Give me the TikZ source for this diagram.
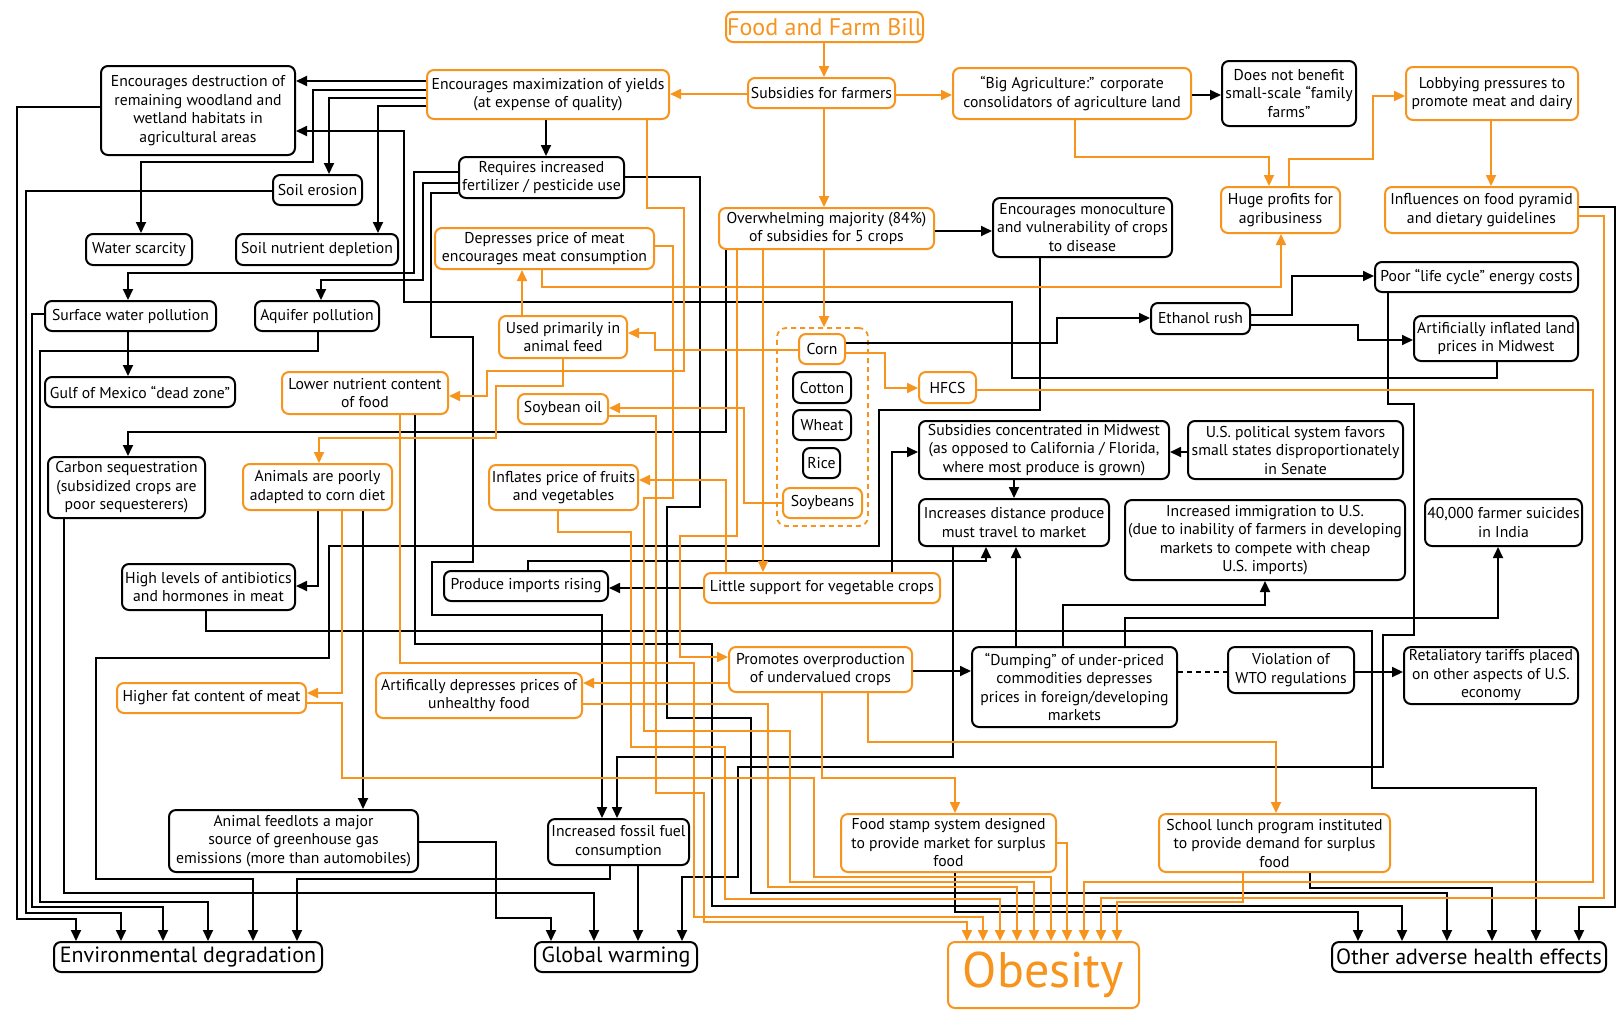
\documentclass[tikz,border=0pt]{standalone}
\usepackage{fontspec}
\setmainfont{PT Sans}
\usetikzlibrary{arrows.meta}
\definecolor{forange}{RGB}{247,148,29}
\newcommand{\mybox}[7]{%
  \pgfmathsetmacro\mbW{#5-#3}\pgfmathsetmacro\mbH{#6-#4}%
  \pgfmathsetmacro\mbX{(#3+#5)/2}\pgfmathsetmacro\mbY{(#4+#6)/2}%
  \node[#1, minimum width=\mbW pt, minimum height=\mbH pt] (#2) at (\mbX,\mbY) {#7};}
\begin{document}
\begin{tikzpicture}[x=1pt,y=-1pt,
  box/.style={rounded corners=7pt, line width=2pt, fill=white, align=center, inner sep=0pt, font=\fontsize{15.7}{18.5}\selectfont},
  bk/.style={box, draw=black},
  ob/.style={box, draw=forange},
  big/.style={font=\fontsize{22}{24}\selectfont},
  ka/.style={line width=1.8pt, draw=black, -{Triangle[length=11pt,width=10pt]}},
  oa/.style={line width=1.8pt, draw=forange, -{Triangle[length=11pt,width=10pt]}},
  kl/.style={line width=1.8pt, draw=black},
]
\fill[white] (0,0) rectangle (1621,1013);
\useasboundingbox (0,0) rectangle (1621,1013);

% crop group
\node[draw=forange, line width=1.8pt, dash pattern=on 5pt off 4pt, rounded corners=9pt, inner sep=0pt, minimum width=91pt, minimum height=198pt] (crops) at (822.5,427) {};

\mybox{ob, font=\fontsize{24}{26}\selectfont, text=forange}{ffb}{726}{12}{923}{42}{Food and Farm Bill}
\mybox{ob}{encmax}{427}{70}{669}{119}{Encourages maximization of yields\\(at expense of quality)}
\mybox{ob}{subs}{748}{78}{895}{108}{Subsidies for farmers}
\mybox{ob}{bigag}{953}{68}{1191}{119}{“Big Agriculture:” corporate\\consolidators of agriculture land}
\mybox{bk}{notbenefit}{1222}{61}{1356}{126}{Does not benefit\\small-scale “family\\farms”}
\mybox{ob}{lobby}{1406}{67}{1578}{120}{Lobbying pressures to\\promote meat and dairy}
\mybox{bk}{encdestr}{101}{66}{295}{155}{Encourages destruction of\\remaining woodland and\\wetland habitats in\\agricultural areas}
\mybox{bk}{fert}{459}{157}{624}{198}{Requires increased\\fertilizer / pesticide use}
\mybox{bk}{erosion}{273}{175}{362}{205}{Soil erosion}
\mybox{bk}{water}{86}{234}{192}{265}{Water scarcity}
\mybox{bk}{nutrient}{236}{234}{398}{265}{Soil nutrient depletion}
\mybox{ob}{depmeat}{435}{228}{654}{269}{Depresses price of meat\\encourages meat consumption}
\mybox{ob}{overwhelm}{719}{208}{934}{249}{Overwhelming majority (84\%)\\of subsidies for 5 crops}
\mybox{bk}{monoc}{993}{198}{1172}{257}{Encourages monoculture\\and vulnerability of crops\\to disease}
\mybox{ob}{profits}{1221}{187}{1340}{233}{Huge profits for\\agribusiness}
\mybox{ob}{influences}{1385}{187}{1578}{233}{Influences on food pyramid\\and dietary guidelines}
\mybox{bk}{lifecycle}{1375}{262}{1578}{292}{Poor “life cycle” energy costs}
\mybox{bk}{swp}{45}{301}{216}{331}{Surface water pollution}
\mybox{bk}{aquifer}{255}{301}{379}{331}{Aquifer pollution}
\mybox{bk}{ethanol}{1151}{303}{1250}{334}{Ethanol rush}
\mybox{bk}{landprices}{1414}{316}{1578}{361}{Artificially inflated land\\prices in Midwest}
\mybox{ob}{animalfeed}{499}{316}{627}{358}{Used primarily in\\animal feed}
\mybox{ob}{corn}{799}{334}{845}{364}{Corn}
\mybox{bk}{cotton}{793}{372}{851}{403}{Cotton}
\mybox{bk}{wheat}{793}{410}{851}{440}{Wheat}
\mybox{bk}{rice}{803}{448}{840}{478}{Rice}
\mybox{ob}{soybeans}{783}{488}{862}{518}{Soybeans}
\mybox{ob}{hfcs}{919}{372}{976}{403}{HFCS}
\mybox{bk}{gulf}{45}{377}{235}{407}{Gulf of Mexico “dead zone”}
\mybox{ob}{lnc}{282}{372}{448}{414}{Lower nutrient content\\of food}
\mybox{ob}{soyoil}{518}{394}{608}{424}{Soybean oil}
\mybox{bk}{carbon}{48}{457}{205}{518}{Carbon sequestration\\(subsidized crops are\\poor sequesterers)}
\mybox{ob}{apa}{243}{464}{392}{510}{Animals are poorly\\adapted to corn diet}
\mybox{ob}{inflates}{489}{465}{638}{510}{Inflates price of fruits\\and vegetables}
\mybox{bk}{midwest}{919}{421}{1169}{479}{Subsidies concentrated in Midwest\\(as opposed to California / Florida,\\where most produce is grown)}
\mybox{bk}{political}{1188}{421}{1403}{479}{U.S. political system favors\\small states disproportionately\\in Senate}
\mybox{bk}{distance}{919}{499}{1109}{546}{Increases distance produce\\must travel to market}
\mybox{bk}{immig}{1125}{500}{1405}{580}{Increased immigration to U.S.\\(due to inability of farmers in developing\\markets to compete with cheap\\U.S. imports)}
\mybox{bk}{suicides}{1425}{499}{1582}{546}{40,000 farmer suicides\\in India}
\mybox{bk}{antibio}{122}{564}{295}{610}{High levels of antibiotics\\and hormones in meat}
\mybox{bk}{imports}{444}{571}{608}{601}{Produce imports rising}
\mybox{ob}{little}{704}{573}{940}{603}{Little support for vegetable crops}
\mybox{ob}{overprod}{729}{647}{912}{692}{Promotes overproduction\\of undervalued crops}
\mybox{bk}{dumping}{972}{647}{1177}{727}{“Dumping” of under-priced\\commodities depresses\\prices in foreign/developing\\markets}
\mybox{bk}{wto}{1228}{647}{1354}{693}{Violation of\\WTO regulations}
\mybox{bk}{tariffs}{1404}{647}{1578}{704}{Retaliatory tariffs placed\\on other aspects of U.S.\\economy}
\mybox{ob}{higherfat}{117}{683}{306}{713}{Higher fat content of meat}
\mybox{ob}{artdep}{376}{673}{582}{718}{Artifically depresses prices of\\unhealthy food}
\mybox{bk}{feedlots}{169}{810}{418}{872}{Animal feedlots a major\\source of greenhouse gas\\emissions (more than automobiles)}
\mybox{bk}{fossil}{548}{819}{689}{865}{Increased fossil fuel\\consumption}
\mybox{ob}{foodstamp}{841}{814}{1056}{872}{Food stamp system designed\\to provide market for surplus\\food}
\mybox{ob}{lunch}{1159}{814}{1390}{872}{School lunch program instituted\\to provide demand for surplus\\food}
\mybox{bk, big}{envdeg}{54}{942}{322}{972}{Environmental degradation}
\mybox{bk, big}{gw}{535}{942}{697}{972}{Global warming}
\mybox{ob, font=\fontsize{50}{52}\selectfont, text=forange}{obesity}{948}{942}{1139}{1008}{Obesity}
\mybox{bk, big}{oahe}{1332}{942}{1606}{972}{Other adverse health effects}

% ---------- black connectors
\draw[ka] (encmax.west|-0,81) -- (encdestr.east|-0,81);
\draw[ka] (encmax.west|-0,90) -- (313,90) -- (313,162) -- (141,162) -- (water.north-|141,0);
\draw[ka] (encmax.west|-0,98) -- (329,98) -- (erosion.north-|329,0);
\draw[ka] (encmax.west|-0,106) -- (378,106) -- (nutrient.north-|378,0);
\draw[ka] (landprices.south-|1497,0) -- (1497,378) -- (1012,378) -- (1012,302) -- (404,302) -- (404,131) -- (encdestr.east|-0,131);
\draw[ka] (encmax.south-|546,0) -- (fert.north-|546,0);
\draw[ka] (fert.west|-0,172) -- (414,172) -- (414,273) -- (128,273) -- (swp.north-|128,0);
\draw[ka] (fert.west|-0,183) -- (423,183) -- (423,280) -- (321,280) -- (aquifer.north-|321,0);
\draw[ka] (fert.west|-0,193) -- (431,193) -- (431,337) -- (473,337) -- (473,562) -- (432,562) -- (432,615) -- (602,615) -- (fossil.north-|602,0);
\draw[ka] (fert.east|-0,177) -- (700,177) -- (700,507) -- (667,507) -- (667,718) -- (751,718) -- (751,893) -- (1447,893) -- (oahe.north-|1447,0);
\draw[ka] (erosion.west|-0,191) -- (26,191) -- (26,913) -- (121,913) -- (envdeg.north-|121,0);
\draw[ka] (encdestr.west|-0,107) -- (17,107) -- (17,919) -- (76,919) -- (envdeg.north-|76,0);
\draw[ka] (swp.west|-0,314) -- (32,314) -- (32,907) -- (163,907) -- (envdeg.north-|163,0);
\draw[ka] (aquifer.south-|318,0) -- (318,351) -- (40,351) -- (40,902) -- (208,902) -- (envdeg.north-|208,0);
\draw[ka] (swp.south-|128,0) -- (gulf.north-|128,0);
\draw[ka] (monoc.south-|1040,0) -- (1040,410) -- (879,410) -- (879,546) -- (329,546) -- (329,658) -- (96,658) -- (96,879) -- (253,879) -- (envdeg.north-|253,0);
\draw[ka] (fossil.south-|610,0) -- (610,879) -- (297,879) -- (envdeg.north-|297,0);
\draw[ka] (overwhelm.east|-0,231) -- (monoc.west|-0,231);
\draw[ka] (overwhelm.south-|726,0) -- (726,432) -- (128,432) -- (carbon.north-|128,0);
\draw[ka] (corn.east|-0,343) -- (1057,343) -- (1057,318) -- (ethanol.west|-0,318);
\draw[ka] (ethanol.east|-0,315) -- (1292,315) -- (1292,276) -- (lifecycle.west|-0,276);
\draw[ka] (ethanol.east|-0,325) -- (1358,325) -- (1358,340) -- (landprices.west|-0,340);
\draw[ka] (lifecycle.south-|1388,0) -- (1388,404) -- (1414,404) -- (1414,635) -- (1383,635) -- (1383,767) -- (738,767) -- (738,877) -- (682,877) -- (gw.north-|682,0);
\draw[ka] (antibio.south-|206,0) -- (206,631) -- (1372,631) -- (1372,788) -- (1536,788) -- (oahe.north-|1536,0);
\draw[ka] (apa.south-|318,0) -- (318,586) -- (antibio.east|-0,586);
\draw[ka] (apa.south-|363,0) -- (feedlots.north-|363,0);
\draw[ka] (carbon.south-|64,0) -- (64,893) -- (594,893) -- (gw.north-|594,0);
\draw[ka] (feedlots.east|-0,842) -- (496,842) -- (496,918) -- (551,918) -- (gw.north-|551,0);
\draw[ka] (fossil.south-|638,0) -- (gw.north-|638,0);
\draw[ka] (distance.south-|953,0) -- (953,757) -- (617,757) -- (fossil.north-|617,0);
\draw[ka] (lnc.south-|415,0) -- (415,644) -- (712,644) -- (712,906) -- (1402,906) -- (oahe.north-|1402,0);
\draw[ka] (foodstamp.south-|955,0) -- (955,912) -- (1358,912) -- (oahe.north-|1358,0);
\draw[ka] (lunch.south-|1310,0) -- (1310,888) -- (1492,888) -- (oahe.north-|1492,0);
\draw[ka] (influences.east|-0,207) -- (1615,207) -- (1615,907) -- (1579,907) -- (oahe.north-|1579,0);
\draw[ka] (little.west|-0,588) -- (imports.east|-0,588);
\draw[ka] (little.north-|892,0) -- (892,452) -- (midwest.west|-0,452);
\draw[ka] (political.west|-0,452) -- (midwest.east|-0,452);
\draw[ka] (midwest.south-|1014,0) -- (distance.north-|1014,0);
\draw[ka] (imports.north-|528,0) -- (528,561) -- (986,561) -- (distance.south-|986,0);
\draw[ka] (dumping.north-|1016,0) -- (distance.south-|1016,0);
\draw[ka] (overprod.east|-0,671) -- (dumping.west|-0,671);
\draw[ka] (dumping.north-|1063,0) -- (1063,605) -- (1265,605) -- (immig.south-|1265,0);
\draw[ka] (dumping.north-|1125,0) -- (1125,618) -- (1498,618) -- (suicides.south-|1498,0);
\draw[kl, dash pattern=on 5pt off 4pt] (dumping.east|-0,672) -- (wto.west|-0,672);
\draw[ka] (wto.east|-0,672) -- (tariffs.west|-0,672);
\draw[ka] (bigag.east|-0,95) -- (notbenefit.west|-0,95);

% ---------- orange connectors
\draw[oa] (ffb.south-|824,0) -- (subs.north-|824,0);
\draw[oa] (subs.west|-0,94) -- (encmax.east|-0,94);
\draw[oa] (subs.east|-0,95) -- (bigag.west|-0,95);
\draw[oa] (subs.south-|824,0) -- (overwhelm.north-|824,0);
\draw[oa] (overwhelm.south-|824,0) -- (crops.north-|824,0);
\draw[oa] (bigag.south-|1075,0) -- (1075,157) -- (1269,157) -- (profits.north-|1269,0);
\draw[oa] (profits.north-|1289,0) -- (1289,159) -- (1373,159) -- (1373,96) -- (lobby.west|-0,96);
\draw[oa] (lobby.south-|1491,0) -- (influences.north-|1491,0);
\draw[oa] (encmax.south-|647,0) -- (647,208) -- (684,208) -- (684,371) -- (487,371) -- (487,396) -- (lnc.east|-0,396);
\draw[oa] (depmeat.south-|542,0) -- (542,287) -- (1281,287) -- (profits.south-|1281,0);
\draw[oa] (depmeat.east|-0,246) -- (673,246) -- (673,498) -- (644,498) -- (644,731) -- (790,731) -- (790,882) -- (1034,882) -- (obesity.north-|1034,0);
\draw[oa] (animalfeed.north-|522,0) -- (depmeat.south-|522,0);
\draw[oa] (corn.west|-0,350) -- (655,350) -- (655,333) -- (animalfeed.east|-0,333);
\draw[oa] (animalfeed.south-|563,0) -- (563,386) -- (496,386) -- (496,438) -- (319,438) -- (apa.north-|319,0);
\draw[oa] (corn.east|-0,353) -- (885,353) -- (885,388) -- (hfcs.west|-0,388);
\draw[oa] (soybeans.west|-0,503) -- (744,503) -- (744,408) -- (soyoil.east|-0,408);
\draw[oa] (soyoil.east|-0,416) -- (656,416) -- (656,793) -- (704,793) -- (704,922) -- (967,922) -- (obesity.north-|967,0);
\draw[oa] (little.north-|726,0) -- (726,480) -- (inflates.east|-0,480);
\draw[oa] (inflates.south-|558,0) -- (558,532) -- (631,532) -- (631,747) -- (725,747) -- (725,899) -- (1000,899) -- (obesity.north-|1000,0);
\draw[oa] (overwhelm.south-|737,0) -- (737,536) -- (680,536) -- (680,657) -- (overprod.west|-0,657);
\draw[oa] (overwhelm.south-|763,0) -- (little.north-|763,0);
\draw[oa] (overprod.west|-0,683) -- (artdep.east|-0,683);
\draw[oa] (artdep.east|-0,704) -- (768,704) -- (768,887) -- (1017,887) -- (obesity.north-|1017,0);
\draw[oa] (lnc.south-|400,0) -- (400,663) -- (694,663) -- (694,917) -- (983,917) -- (obesity.north-|983,0);
\draw[oa] (apa.south-|342,0) -- (342,693) -- (higherfat.east|-0,693);
\draw[oa] (higherfat.east|-0,703) -- (342,703) -- (342,778) -- (814,778) -- (814,877) -- (1051,877) -- (obesity.north-|1051,0);
\draw[oa] (overprod.south-|822,0) -- (822,778) -- (955,778) -- (foodstamp.north-|955,0);
\draw[oa] (overprod.south-|868,0) -- (868,742) -- (1276,742) -- (lunch.north-|1276,0);
\draw[oa] (foodstamp.east|-0,843) -- (1067,843) -- (obesity.north-|1067,0);
\draw[oa] (hfcs.east|-0,390) -- (1593,390) -- (1593,882) -- (1084,882) -- (obesity.north-|1084,0);
\draw[oa] (influences.east|-0,216) -- (1604,216) -- (1604,898) -- (1101,898) -- (obesity.north-|1101,0);
\draw[oa] (lunch.south-|1243,0) -- (1243,902) -- (1117,902) -- (obesity.north-|1117,0);
\end{tikzpicture}
\end{document}
